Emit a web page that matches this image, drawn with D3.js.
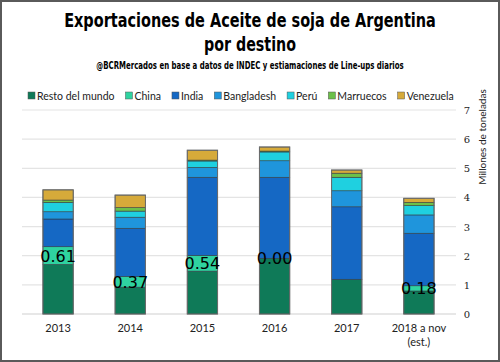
<!DOCTYPE html>
<html>
<head>
<meta charset="utf-8">
<script src="https://cdn.jsdelivr.net/npm/d3@7"></script>
<style>
  body { margin: 0; background: #fff; }
  svg { display: block; }
  .title { font-family: "DejaVu Sans Condensed", "DejaVu Sans", sans-serif; font-stretch: condensed; font-weight: bold; font-size: 20px; fill: #000; }
  .subtitle { font-family: "DejaVu Sans Condensed", "DejaVu Sans", sans-serif; font-stretch: condensed; font-weight: bold; font-size: 10px; fill: #000; }
  .legend text, .xlab { font-family: "Lato", "Open Sans", sans-serif; font-size: 10.5px; fill: #222; }
  .xlab { font-size: 11px; }
  .ytick { font-family: "DejaVu Serif", serif; font-size: 10px; fill: #222; }
  .ytitle { font-family: "Lato", sans-serif; font-size: 10px; fill: #222; }
  .valueLabel { font-family: "DejaVu Sans", sans-serif; font-size: 16px; fill: #000; }
</style>
</head>
<body>
<div id="chart"></div>
<script>
const years = ['2013', '2014', '2015', '2016', '2017', '2018 a nov|(est.)']
const series = ['Resto del mundo', 'China', 'India', 'Bangladesh', 'Perú', 'Marruecos', 'Venezuela']
const colours = ['#0f7a58', '#2fd3a0', '#1568c4', '#1f95dc', '#1fd0e0', '#6cc04a', '#d6aa3a']

// millones de toneladas, por destino
const resto      = [1.70, 0.92, 1.47, 1.91, 1.19, 0.79]
const china      = [0.61, 0.37, 0.54, 0.00, 0.00, 0.18]
const india      = [0.95, 1.65, 2.68, 2.78, 2.49, 1.80]
const bangladesh = [0.25, 0.38, 0.34, 0.57, 0.55, 0.63]
const peru       = [0.32, 0.21, 0.22, 0.30, 0.46, 0.32]
const marruecos  = [0.08, 0.12, 0.03, 0.03, 0.14, 0.11]
const venezuela  = [0.35, 0.43, 0.34, 0.14, 0.11, 0.14]
// labels shown on the China segment (blank where none)
const chinaLabels = ['0.61', '0.37', '0.54', '0.00', '', '0.18']

const yTicks = [0, 1, 2, 3, 4, 5, 6, 7]

const width = 500
const height = 362

const margin = { top: 110, right: 45, bottom: 48, left: 22 }

let svg = d3.select('#chart').append('svg')
  .attr('width', width)
  .attr('height', height)

svg.append('rect')
  .attr('x', 1).attr('y', 1)
  .attr('width', width-2).attr('height', height-2)
  .style('fill', '#fff')
  .style('stroke', '#5a5a5a')
  .style('stroke-width', 2)

// titles: squeeze horizontally to the width of the original condensed face
const squeezed = function(cls, txt, cy, w) {
  let g = svg.append('g')
  let t = g.append('text').attr('class', cls)
    .attr('x', 0).attr('y', 0)
    .style('text-anchor', 'middle')
    .text(txt)
  let sx = Math.min(1, w / t.node().getComputedTextLength())
  g.attr('transform', `translate(${width/2}, ${cy}) scale(${sx}, 1)`)
}
squeezed('title', 'Exportaciones de Aceite de soja de Argentina', 27, 372)
squeezed('title', 'por destino', 51, 92)
squeezed('subtitle', '@BCRMercados en base a datos de INDEC y estiamaciones de Line-ups diarios', 69, 308)

let data = years.map((yr, i) => ({
  year: yr,
  'Resto del mundo': resto[i],
  'China': china[i],
  'India': india[i],
  'Bangladesh': bangladesh[i],
  'Perú': peru[i],
  'Marruecos': marruecos[i],
  'Venezuela': venezuela[i],
  label: chinaLabels[i]
}))

let stacked = d3.stack().keys(series)(data)

let x = d3.scaleBand()
  .domain(years)
  .range([margin.left, width-margin.right])
  .paddingInner(0.58)
  .paddingOuter(0.29)

let y = d3.scaleLinear()
  .domain([0, 7])
  .range([height-margin.bottom, margin.top])

let colour = d3.scaleOrdinal().domain(series).range(colours)

// grid
svg.append('g')
  .selectAll('line')
  .data(yTicks)
  .enter()
  .append('line')
  .attr('x1', margin.left)
  .attr('x2', width-margin.right+1)
  .attr('y1', d => y(d))
  .attr('y2', d => y(d))
  .style('stroke', d => d == 0 ? '#d0d0d0' : '#e4e4e4')
  .style('stroke-width', 1.2)

svg.append('g')
  .selectAll('text')
  .data(yTicks)
  .enter()
  .append('text')
  .attr('class', 'ytick')
  .attr('x', width-margin.right+12)
  .attr('y', d => y(d)+4)
  .style('text-anchor', 'middle')
  .text(d => d)

svg.append('text')
  .attr('class', 'ytitle')
  .attr('transform', `translate(${width-14}, 137) rotate(-90)`)
  .style('text-anchor', 'middle')
  .text('Millones de toneladas')

// bars
svg.append('g')
  .selectAll('g')
  .data(stacked)
  .enter()
  .append('g')
  .style('fill', d => colour(d.key))
  .selectAll('rect')
  .data(d => d)
  .enter()
  .append('rect')
  .attr('x', d => x(d.data.year))
  .attr('width', x.bandwidth())
  .attr('y', d => y(d[1]))
  .attr('height', d => y(d[0])-y(d[1]))
  .style('stroke', '#2f3a40')
  .style('stroke-width', 0.7)
  .style('stroke-opacity', 0.8)

// outline of each column
svg.append('g')
  .selectAll('rect')
  .data(stacked[stacked.length-1])
  .enter()
  .append('rect')
  .attr('x', d => x(d.data.year))
  .attr('width', x.bandwidth())
  .attr('y', d => y(d[1]))
  .attr('height', d => y(0)-y(d[1]))
  .style('fill', 'none')
  .style('stroke', '#6b6b6b')
  .style('stroke-width', 1)

// China value labels
svg.append('g')
  .selectAll('text')
  .data(stacked[1])
  .enter()
  .append('text')
  .attr('class', 'valueLabel')
  .attr('x', d => x(d.data.year)+x.bandwidth()/2)
  .attr('y', d => (y(d[0])+y(d[1]))/2+6)
  .style('text-anchor', 'middle')
  .text(d => d.data.label)

// x labels
let xl = svg.append('g')
  .selectAll('text')
  .data(years)
  .enter()
  .append('text')
  .attr('class', 'xlab')
  .attr('x', d => x(d)+x.bandwidth()/2)
  .attr('y', height-margin.bottom+18)
  .style('text-anchor', 'middle')
xl.selectAll('tspan')
  .data(d => d.split('|').map((t, i) => ({ t, i })))
  .enter()
  .append('tspan')
  .attr('x', function() { return d3.select(this.parentNode).attr('x') })
  .attr('dy', d => d.i == 0 ? 0 : 14)
  .text(d => d.t)

// legend
let legend = svg.append('g').attr('class', 'legend')
let lx = 28
series.forEach((s, i) => {
  let g = legend.append('g').attr('transform', `translate(${lx}, 96)`)
  g.append('rect')
    .attr('x', 0).attr('y', -4)
    .attr('width', 7).attr('height', 7)
    .style('fill', colours[i])
    .style('stroke', '#555')
    .style('stroke-width', 0.5)
  let t = g.append('text')
    .attr('x', 9).attr('y', 3.5)
    .text(s)
  lx += 9 + t.node().getComputedTextLength() + 11
})
</script>
</body>
</html>
